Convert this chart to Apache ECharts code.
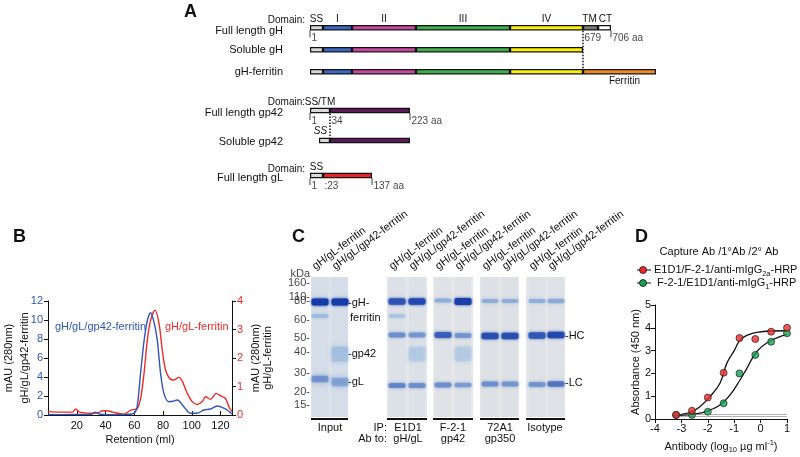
<!DOCTYPE html>
<html><head><meta charset="utf-8">
<script src="https://cdn.jsdelivr.net/npm/echarts/dist/echarts.min.js"></script>
<style>html,body{margin:0;padding:0;background:#fff}#c{width:800px;height:457px}</style>
</head><body><div id="c"></div>
<script>
// ---------------- Panel A: domain diagrams (display lengths) ----------------
const gHConstructs = ['Full length gH', 'Soluble gH', 'gH-ferritin'];
const gHDomains = ['SS', 'I', 'II', 'III', 'IV', 'TM', 'CT', 'Ferritin'];
const gHFullLen = [13, 29, 64, 94, 73, 15, 13, 0];
const gHSolubleLen = [13, 29, 64, 94, 73, 0, 0, 0];
const gHFerritinLen = [13, 29, 64, 94, 73, 0, 0, 73];
const gHResidues = ['1', '679', '706 aa'];

const gp42Constructs = ['Full length gp42', 'Soluble gp42'];
const gp42Domains = ['', 'SS/TM', 'gp42'];
const gp42FullLen = [0, 20, 80];
const gp42SolubleLen = [9, 11, 80];
const gp42Residues = ['1', '34', '223 aa'];

const gLConstructs = ['Full length gL'];
const gLDomains = ['SS', 'gL'];
const gLFullLen = [13, 49];
const gLResidues = ['1', ':23', '137 aa'];

// ---------------- Panel B: size-exclusion traces ----------------
const retentionBlue = [0, 10, 20, 30, 33, 36, 45, 55, 60, 62, 64.4, 66.9, 69.2, 71.4, 73.7, 76, 78.3, 80.6, 84, 87, 89.9, 94.5, 99, 103.6, 108.4, 113, 117.7, 121, 124.6, 128];
const mAUBlue = [0.05, 0.04, 0.06, 0.05, 0.3, 0.08, 0.03, 0.05, 0.2, 0.87, 4.4, 7.9, 10, 10.77, 9.8, 7.9, 4.4, 2.3, 1.4, 1.45, 1.58, 0.87, 0.18, 0.18, 0.53, 0.63, 0.95, 0.8, 0.53, 0.1];
const retentionRed = [0, 10, 17, 19.3, 22, 30, 35, 38, 41.3, 45, 52.9, 57.5, 62.1, 64.5, 66.8, 69.1, 71.4, 74.4, 77.2, 79.5, 81.8, 85.3, 87.6, 91, 93.4, 96.9, 100.3, 103.8, 107.3, 109.6, 113, 117, 120.1, 123.5, 125.8, 128];
const mAURed = [0.12, 0.1, 0.1, 0.21, 0.1, 0.06, 0.08, 0.15, 0.15, 0.1, 0.03, 0.17, 0.23, 0.6, 1.46, 2.63, 3.33, 3.68, 3.22, 2.28, 1.58, 1.25, 1.23, 1.32, 1.19, 0.76, 0.47, 0.37, 0.47, 0.64, 0.55, 0.76, 0.67, 0.58, 0.29, 0.12];

// ---------------- Panel C: gel ----------------
const ladderKDa = ['160', '110', '80', '60', '50', '40', '30', '20', '15'];
const ladderMigration = [6, 20, 24, 43, 61, 75, 96, 115, 128];
const gelPanelNames = ['Input', 'E1D1', 'F-2-1', '72A1', 'Isotype'];
const laneNames = ['gH/gL-ferritin', 'gH/gL/gp42-ferritin', 'gH/gL-ferritin', 'gH/gL/gp42-ferritin', 'gH/gL-ferritin', 'gH/gL/gp42-ferritin', 'gH/gL-ferritin', 'gH/gL/gp42-ferritin', 'gH/gL-ferritin', 'gH/gL/gp42-ferritin'];
const bandLane      = [0, 0, 0,   1, 1, 1,   2, 2, 2, 2,   3, 3, 3, 3,   4, 4, 4,   5, 5, 5, 5,   6, 6, 6,   7, 7, 7,   8, 8, 8,   9, 9, 9];
const bandMigration = [25, 39, 102, 25, 77, 105, 24.5, 39, 58, 108.5, 24.5, 58, 77, 108.5, 23.5, 58, 108, 24.5, 58.5, 77, 108, 24, 59, 107, 24, 59, 107, 24, 58.5, 107.5, 24, 58, 107];
const bandIntensity = [1.0, 0.2, 0.42, 1.0, 0.12, 0.32, 0.85, 0.15, 0.5, 0.55, 0.92, 0.45, 0.05, 0.5, 0.3, 0.78, 0.5, 0.97, 0.45, 0.05, 0.42, 0.3, 0.88, 0.5, 0.3, 0.88, 0.45, 0.3, 0.82, 0.45, 0.32, 0.92, 0.65];
const bandSpread    = [0, 0, 2, 0, 12, 4, 0, 0, 0, 0, 0, 0, 12, 0, 0, 0, 0, 0, 0, 12, 0, 0, 0, 0, 0, 0, 0, 0, 0, 0, 0, 0, 0];

// ---------------- Panel D: ELISA ----------------
const log10Dose = [-3.2, -2.6, -2.0, -1.4, -0.8, -0.2, 0.4, 1.0];
const absE1D1 = [0.18, 0.36, 0.94, 2.03, 3.55, 3.51, 3.83, 4.0];
const absF21 = [0.18, 0.18, 0.32, 0.69, 2.0, 2.81, 3.39, 3.76];
const fitE1D1X = [-3.3, -2.9, -2.6, -2.3, -1.92, -1.54, -1.28, -1.0, -0.78, -0.5, -0.15, 0.36, 1.0];
const fitE1D1Y = [0.14, 0.22, 0.33, 0.54, 0.98, 1.57, 2.44, 3.0, 3.46, 3.68, 3.8, 3.86, 3.87];
const fitF21X = [-3.3, -2.6, -2.2, -1.92, -1.54, -1.16, -0.78, -0.53, -0.15, 0.36, 1.0];
const fitF21Y = [0.14, 0.2, 0.28, 0.39, 0.61, 1.05, 1.71, 2.2, 2.95, 3.42, 3.71];
const backgroundLevels = [0.12, 0.22];

// ================= build =================
const FONT = "'Liberation Sans', Arial, Helvetica, sans-serif";
const INK = '#111';
const BLUE = '#2f57b8', RED = '#ee2a2a';
const zip = (a, b) => a.map((v, i) => [v, b[i]]);
const cum = (arr, n) => arr.slice(0, n).reduce((s, v) => s + v, 0);

const series = [];
const lbl = (extra) => Object.assign({ show: true, fontSize: 10, color: INK, fontFamily: FONT }, extra);

function domainBars(xi, rows, domains, colors, stack, headerLabels) {
  domains.forEach((d, j) => {
    series.push({
      type: 'bar', xAxisIndex: xi, yAxisIndex: xi, stack, barWidth: 5.5, silent: true,
      itemStyle: colors[j] ? { color: colors[j], borderColor: INK, borderWidth: 1.2 } : { color: 'rgba(0,0,0,0)', borderWidth: 0 },
      data: rows.map((row, r) => {
        const v = row[j];
        const item = { value: v > 0 ? v : '-' };
        (headerLabels[d] || []).forEach(h => {
          if (h.row === r) item.label = lbl(Object.assign({ formatter: h.text || d, position: 'top', distance: 1 }, h.label || {}));
        });
        return item;
      })
    });
  });
}

function residueMarks(xi, positions, texts, rowIdx, dottedTo, tickFlags) {
  const s = {
    type: 'scatter', xAxisIndex: xi, yAxisIndex: xi, silent: true, clip: false, z: 3,
    data: positions.map((p, i) => ({
      value: [p, rowIdx, texts[i]],
      itemStyle: { color: tickFlags[i] ? INK : 'rgba(0,0,0,0)' }
    })),
    symbol: 'rect', symbolSize: [1, 7], symbolOffset: [0, 6],
    label: lbl({ position: [2, 3], align: 'left', verticalAlign: 'top', formatter: p => p.data.value[2] })
  };
  if (dottedTo !== null) {
    s.markLine = {
      silent: true, symbol: 'none', label: { show: false },
      lineStyle: { type: 'dotted', color: INK, width: 1.5 },
      data: [[{ coord: [positions[1], rowIdx] }, { coord: [positions[1], dottedTo] }]]
    };
  }
  series.push(s);
}

// Panel A
domainBars(0, [gHFullLen, gHSolubleLen, gHFerritinLen], gHDomains,
  ['#d9d9d9', '#3b68c2', '#c8479f', '#3eb04b', '#fff200', '#7a7a7a', '#ffffff', '#f28a24'], 'gH',
  { SS: [{ row: 0 }], I: [{ row: 0 }], II: [{ row: 0 }], III: [{ row: 0 }], IV: [{ row: 0 }],
    TM: [{ row: 0, label: { offset: [-1, 0] } }], CT: [{ row: 0, label: { offset: [1, 0] } }],
    Ferritin: [{ row: 2, label: { position: 'bottom', distance: 2, offset: [5, 0] } }] });
residueMarks(0, [0, cum(gHFullLen, 5), cum(gHFullLen, 7)], gHResidues, 0, 2, [true, false, true]);

domainBars(1, [gp42FullLen, gp42SolubleLen], gp42Domains, [null, '#d9d9d9', '#5a1a5c'], 'gp42',
  { 'SS/TM': [{ row: 0 }, { row: 1, text: 'SS', label: { offset: [-4, -1], fontStyle: 'italic' } }] });
residueMarks(1, [0, cum(gp42FullLen, 2), cum(gp42FullLen, 3)], gp42Residues, 0, 1, [true, false, true]);

domainBars(2, [gLFullLen], gLDomains, ['#d9d9d9', '#ec2227'], 'gL', { SS: [{ row: 0 }] });
residueMarks(2, [0, cum(gLFullLen, 1), cum(gLFullLen, 2)], gLResidues, 0, null, [true, false, true]);

// Panel B
series.push({ type: 'line', xAxisIndex: 3, yAxisIndex: 3, data: zip(retentionBlue, mAUBlue), smooth: 0.3, symbol: 'none', silent: true, lineStyle: { color: BLUE, width: 1.4 }, z: 3 });
series.push({ type: 'line', xAxisIndex: 3, yAxisIndex: 4, data: zip(retentionRed, mAURed), smooth: 0.3, symbol: 'none', silent: true, lineStyle: { color: RED, width: 1.4 }, z: 2 });

// Panel C: gel
const gelDepth = 140;
const gelPanelStart = [0, 76, 122, 169, 215];
const gelPanelEnd = [37, 116, 162, 208, 254];
const laneCentre = [9, 29, 86, 106, 132, 152, 179, 199, 226, 245];
const gelBg = ['#dae2eb', '#e2e6ea', '#e5e7e9', '#e3e5e7', '#e4e6e9'];
series.push({
  type: 'custom', xAxisIndex: 4, yAxisIndex: 5, silent: true, z: 1,
  data: gelPanelNames.map((n, i) => [gelPanelStart[i], 0, gelPanelEnd[i]]),
  renderItem: (params, api) => {
    const i = params.dataIndex;
    const p0 = api.coord([gelPanelStart[i], 0]);
    const p1 = api.coord([gelPanelEnd[i], gelDepth]);
    const kids = [
      { type: 'rect', shape: { x: p0[0], y: p0[1], width: p1[0] - p0[0], height: p1[1] - p0[1] }, style: { fill: gelBg[i] } },
      { type: 'rect', shape: { x: p0[0], y: p1[1] + 1, width: p1[0] - p0[0], height: 2 }, style: { fill: INK } }
    ];
    laneCentre.forEach((lc) => {
      if (lc > gelPanelStart[i] && lc < gelPanelEnd[i]) {
        const c = api.coord([lc, 0]);
        kids.push({ type: 'rect', shape: { x: c[0] - 8, y: p0[1], width: 16, height: p1[1] - p0[1] }, style: { fill: 'rgba(120,140,170,0.05)' } });
      }
    });
    return { type: 'group', children: kids };
  }
});
function bandColor(t) {
  const a = [165, 203, 232], b = [22, 60, 170];
  return 'rgb(' + a.map((v, k) => Math.round(v + (b[k] - v) * t)).join(',') + ')';
}
series.push({
  type: 'custom', xAxisIndex: 4, yAxisIndex: 5, silent: true, z: 2,
  data: bandLane.map((l, i) => [laneCentre[l], bandMigration[i], bandIntensity[i], bandSpread[i]]),
  renderItem: (params, api) => {
    const c = api.coord([api.value(0), api.value(1)]);
    const t = api.value(2), sp = api.value(3);
    const h = 3 + 4 * t + sp;
    const col = bandColor(sp > 0 ? t + 0.1 : t);
    return {
      type: 'rect', shape: { x: c[0] - 8.5, y: c[1] - h / 2, width: 17, height: h, r: Math.min(2, h / 2) },
      style: { fill: col, opacity: sp > 0 ? 0.3 + 0.9 * t : 0.45 + 0.55 * t, shadowBlur: sp > 0 ? 5 : 3, shadowColor: col }
    };
  }
});
series.push({
  type: 'custom', xAxisIndex: 4, yAxisIndex: 5, silent: true, z: 2,
  data: laneNames.map((n, i) => [laneCentre[i], 0]),
  renderItem: (params, api) => {
    const c = api.coord([api.value(0), 0]);
    return { type: 'text', x: c[0] - 3, y: c[1] - 5, rotation: 37 * Math.PI / 180,
      style: { text: laneNames[params.dataIndex], fontSize: 11, fill: INK, fontFamily: FONT, align: 'left', verticalAlign: 'bottom' } };
  }
});
series.push({
  type: 'scatter', xAxisIndex: 4, yAxisIndex: 5, silent: true, symbolSize: 0, clip: false,
  data: ladderKDa.map((k, i) => [-1, ladderMigration[i], k + '-']).concat([[-1, -3, 'kDa']]),
  label: { show: true, position: 'left', distance: 0, align: 'right', fontSize: 11, color: INK, fontFamily: FONT, formatter: p => p.data[2] }
});

// Panel D
series.push({ type: 'line', xAxisIndex: 5, yAxisIndex: 6, data: zip(fitE1D1X, fitE1D1Y), smooth: 0.4, symbol: 'none', silent: true, lineStyle: { color: INK, width: 1.3 },
  markLine: { silent: true, symbol: 'none', label: { show: false }, lineStyle: { type: 'dotted', color: '#666', width: 1 },
    data: backgroundLevels.map(b => [{ coord: [-3.3, b] }, { coord: [1, b] }]) } });
series.push({ type: 'line', xAxisIndex: 5, yAxisIndex: 6, data: zip(fitF21X, fitF21Y), smooth: 0.4, symbol: 'none', silent: true, lineStyle: { color: INK, width: 1.3 } });
series.push({ type: 'scatter', xAxisIndex: 5, yAxisIndex: 6, data: zip(log10Dose, absF21), symbolSize: 7, silent: true, z: 4, itemStyle: { color: '#17a050', borderColor: INK, borderWidth: 0.8 } });
series.push({ type: 'scatter', xAxisIndex: 5, yAxisIndex: 6, data: zip(log10Dose, absE1D1), symbolSize: 7, silent: true, z: 5, itemStyle: { color: '#ee2a2a', borderColor: INK, borderWidth: 0.8 } });

const hiddenX = (g, min, max) => ({ gridIndex: g, type: 'value', min, max, show: false });
const catY = (g, names, shifts) => ({ gridIndex: g, type: 'category', data: names, inverse: true, axisLine: { show: false }, axisTick: { show: false },
  axisLabel: { fontSize: 11, color: INK, margin: 27, fontFamily: FONT,
    formatter: (v, i) => '{s' + shifts[i] + '|' + v + '}',
    rich: { s0: { fontSize: 11 }, s1: { fontSize: 11, padding: [3, 0, 0, 0] }, s2: { fontSize: 11, padding: [5, 0, 0, 0] }, s3: { fontSize: 11, padding: [7, 0, 0, 0] } } } });
const axLine = { show: true, onZero: false, lineStyle: { color: INK, width: 1 } };
const axTick = (inside) => ({ show: true, inside, length: 4, lineStyle: { color: INK, width: 1 } });

const txt = (x, y, text, opt) => ({ type: 'text', x, y, silent: true, style: Object.assign({ text, fontSize: 11, fill: INK, fontFamily: FONT, align: 'left', verticalAlign: 'middle' }, opt || {}) });
const subRich = { sub: { fontSize: 7.5, verticalAlign: 'bottom', fontFamily: FONT, fill: INK }, base: { fontSize: 11, fontFamily: FONT, lineHeight: 15, fill: INK } };

const option = {
  animation: false,
  textStyle: { fontFamily: FONT },
  grid: [
    { left: 310, top: 16.7, width: 350, height: 66 },
    { left: 310, top: 95.5, width: 350, height: 60 },
    { left: 310, top: 163, width: 350, height: 25 },
    { left: 48, top: 301, width: 184, height: 114 },
    { left: 301, top: 267, width: 264, height: 150 },
    { left: 655, top: 305, width: 132, height: 114 }
  ],
  xAxis: [
    hiddenX(0, 0, 350), hiddenX(1, 0, 350), hiddenX(2, 0, 350),
    { gridIndex: 3, type: 'value', min: 0, max: 128, interval: 20, axisLine: axLine, axisTick: axTick(true), splitLine: { show: false },
      axisLabel: { fontSize: 11, color: INK, margin: 5, formatter: v => (v === 0 || v > 120) ? '' : String(v) },
      name: 'Retention (ml)', nameLocation: 'middle', nameGap: 19, nameTextStyle: { fontSize: 11, color: INK } },
    hiddenX(4, -10, 254),
    { gridIndex: 5, type: 'value', min: -4, max: 1, interval: 1, axisLine: axLine, axisTick: axTick(false), splitLine: { show: false },
      axisLabel: { fontSize: 11, color: INK, margin: 4 },
      name: 'Antibody (log{sub|10} µg ml{sup|-1})', nameLocation: 'middle', nameGap: 20,
      nameTextStyle: { fontSize: 11, color: INK, lineHeight: 15, rich: { sub: { fontSize: 7.5, verticalAlign: 'bottom' }, sup: { fontSize: 7.5, verticalAlign: 'top' } } } }
  ],
  yAxis: [
    catY(0, gHConstructs, [3, 0, 0]), catY(1, gp42Constructs, [2, 1]), catY(2, gLConstructs, [2]),
    { gridIndex: 3, type: 'value', min: 0, max: 12, interval: 2, axisLine: axLine, axisTick: axTick(false), splitLine: { show: false },
      axisLabel: { fontSize: 11, color: BLUE, margin: 5 },
      name: 'mAU (280nm)\ngH/gL/gp42-ferritin', nameLocation: 'middle', nameRotate: 90, nameGap: 15, nameMoveOverlap: false,
      nameTextStyle: { fontSize: 11, color: INK, lineHeight: 16 } },
    { gridIndex: 3, type: 'value', position: 'right', min: 0, max: 4, interval: 1, axisLine: axLine, axisTick: axTick(false), splitLine: { show: false },
      axisLabel: { fontSize: 11, color: RED, margin: 5 },
      name: 'mAU (280nm)\ngH/gL-ferritin', nameLocation: 'middle', nameRotate: 90, nameGap: 18, nameMoveOverlap: false,
      nameTextStyle: { fontSize: 11, color: INK, lineHeight: 12 } },
    { gridIndex: 4, type: 'value', min: -10, max: 140, inverse: true, show: false },
    { gridIndex: 5, type: 'value', min: 0, max: 5, interval: 1, axisLine: axLine, axisTick: axTick(false), splitLine: { show: false },
      axisLabel: { fontSize: 11, color: INK, margin: 4 },
      name: 'Absorbance (450 nm)', nameLocation: 'middle', nameRotate: 90, nameGap: 14, nameTextStyle: { fontSize: 11, color: INK } }
  ],
  graphic: [
    txt(184, 12, 'A', { fontSize: 18, fontWeight: 'bold' }),
    txt(13, 237, 'B', { fontSize: 18, fontWeight: 'bold' }),
    txt(292, 237, 'C', { fontSize: 18, fontWeight: 'bold' }),
    txt(635, 237, 'D', { fontSize: 18, fontWeight: 'bold' }),
    txt(305, 20, 'Domain:', { fontSize: 10, align: 'right' }),
    txt(305, 102, 'Domain:', { fontSize: 10, align: 'right' }),
    txt(305, 169, 'Domain:', { fontSize: 10, align: 'right' }),
    // B annotations
    txt(55, 327, 'gH/gL/gp42-ferritin', { fill: BLUE }),
    txt(165, 327, 'gH/gL-ferritin', { fill: RED }),
    // C band labels
    txt(348, 303, '-gH-'), txt(350, 318, 'ferritin'), txt(348, 354, '-gp42'), txt(348, 382, '-gL'),
    txt(565, 336, '-HC'), txt(565, 383, '-LC'),
    txt(330, 428, 'Input', { align: 'center' }),
    txt(387, 428, 'IP:', { align: 'right' }), txt(387, 439, 'Ab to:', { align: 'right' }),
    txt(408, 428, 'E1D1', { align: 'center' }), txt(408, 439, 'gH/gL', { align: 'center' }),
    txt(453, 428, 'F-2-1', { align: 'center' }), txt(453, 439, 'gp42', { align: 'center' }),
    txt(500, 428, '72A1', { align: 'center' }), txt(500, 439, 'gp350', { align: 'center' }),
    txt(545, 428, 'Isotype', { align: 'center' }),
    // D legend
    txt(719, 252, 'Capture Ab /1°Ab /2° Ab', { align: 'center' }),
    { type: 'line', silent: true, shape: { x1: 637, y1: 270, x2: 651, y2: 270 }, style: { stroke: INK, lineWidth: 1 } },
    { type: 'circle', silent: true, shape: { cx: 643, cy: 270, r: 3.5 }, style: { fill: '#ee2a2a', stroke: INK, lineWidth: 0.8 } },
    txt(654, 270, '{base|E1D1/F-2-1/anti-mIgG}{sub|2a}{base|-HRP}', { rich: subRich }),
    { type: 'line', silent: true, shape: { x1: 637, y1: 283, x2: 651, y2: 283 }, style: { stroke: INK, lineWidth: 1 } },
    { type: 'circle', silent: true, shape: { cx: 643, cy: 283, r: 3.5 }, style: { fill: '#17a050', stroke: INK, lineWidth: 0.8 } },
    txt(657, 283, '{base|F-2-1/E1D1/anti-mIgG}{sub|1}{base|-HRP}', { rich: subRich })
  ],
  series
};

const chart = echarts.init(document.getElementById('c'), null, { renderer: 'canvas' });
chart.setOption(option);
</script></body></html>
